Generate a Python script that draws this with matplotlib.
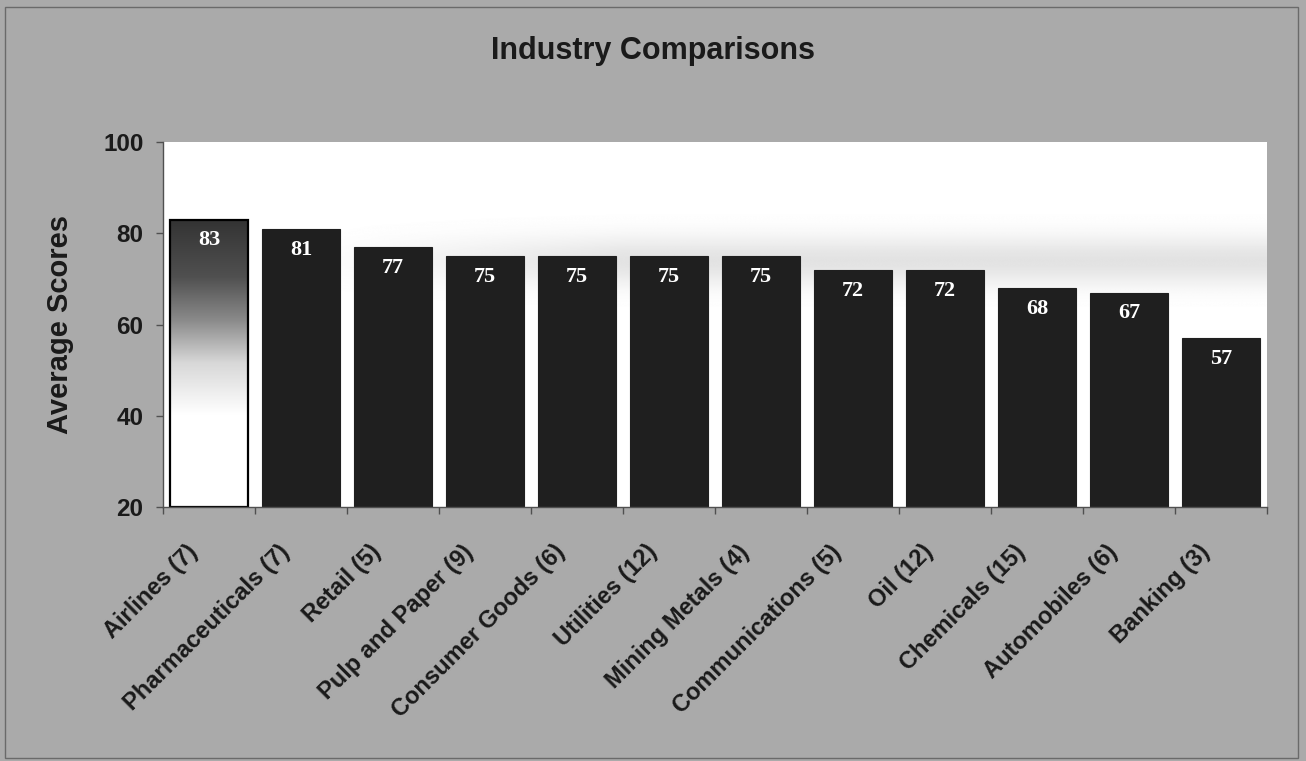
import numpy as np
import matplotlib
matplotlib.use("Agg")
import matplotlib.pyplot as plt
from matplotlib.colors import LinearSegmentedColormap
from matplotlib.patches import Rectangle

industries = ["Airlines (7)", "Pharmaceuticals (7)", "Retail (5)", "Pulp and Paper (9)",
              "Consumer Goods (6)", "Utilities (12)", "Mining Metals (4)",
              "Communications (5)", "Oil (12)", "Chemicals (15)", "Automobiles (6)",
              "Banking (3)"]
scores = [83, 81, 77, 75, 75, 75, 75, 72, 72, 68, 67, 57]
y_ticks = [20, 40, 60, 80, 100]

bg = "#aaaaaa"
bar_color = "#1f1f1f"
text_color = "#1a1a1a"
sans = ["Liberation Sans", "Arial", "DejaVu Sans"]
serif = ["Liberation Serif", "Times New Roman", "DejaVu Serif"]

fig = plt.figure(figsize=(13.06, 7.61), dpi=100, facecolor=bg)
W, H = 1306, 761
ax = fig.add_axes([163 / W, 1 - 507 / H, (1267 - 163) / W, (507 - 142) / H])
ax.set_facecolor("white")

x = np.arange(len(industries))
ymin, ymax = y_ticks[0], y_ticks[-1]
bars = ax.bar(x, [s - ymin for s in scores], bottom=ymin, width=0.85,
              color=bar_color, edgecolor=bar_color, linewidth=0.8, zorder=3)
ax.set_xlim(-0.5, len(industries) - 0.5)
ax.set_ylim(ymin, ymax)

# faint grey haze band across the upper part of the plot area
haze_y = np.linspace(ymin, ymax, 400)
haze = np.exp(-((haze_y - 74) / 5.5) ** 2) * 0.11
haze_x = np.clip((np.linspace(0, 1, 300) - 0.12) / 0.3, 0, 1)
haze_img = 1 - haze[:, None] * haze_x[None, :]
ax.imshow(haze_img, extent=[-0.5, len(industries) - 0.5, ymin, ymax], origin="lower",
          cmap="gray", vmin=0, vmax=1, aspect="auto", zorder=1, interpolation="bilinear")

# first bar: vertical fade from dark grey at the top to white at the bottom
first = bars[0]
first.set_facecolor("none")
first.set_edgecolor("black")
first.set_linewidth(1.6)
first.set_zorder(5)
fade = LinearSegmentedColormap.from_list(
    "fade", [(0.0, "white"), (0.32, "white"), (0.50, "#d8d8d8"),
             (0.65, "#8a8a8a"), (0.80, "#505050"), (1.0, "#333333")])
grad = np.linspace(0, 1, 256)[:, None]
x0 = first.get_x()
img = ax.imshow(grad, extent=[x0, x0 + first.get_width(), ymin, scores[0]],
                origin="lower", cmap=fade, aspect="auto", zorder=4,
                interpolation="bilinear")
img.set_clip_path(first)

# value labels inside the top of each bar
for xi, s in zip(x, scores):
    ax.annotate(str(s), (xi, s), xytext=(0, -15), textcoords="offset points",
                ha="center", va="center", color="white", fontsize=16,
                fontweight="bold", family=serif, zorder=6)

# axes styling
for side in ("top", "right"):
    ax.spines[side].set_visible(False)
for side in ("left", "bottom"):
    ax.spines[side].set_color("#505050")
    ax.spines[side].set_linewidth(1.0)
    ax.spines[side].set_zorder(7)

ax.set_yticks(y_ticks)
ax.set_yticklabels([str(t) for t in y_ticks], fontsize=17.5, fontweight="bold",
                   family=sans, color=text_color)
ax.tick_params(axis="y", length=5, width=1, color="#505050", pad=9)

# category ticks sit on the boundaries between bars
ax.set_xticks(np.arange(-0.5, len(industries)))
ax.set_xticklabels([])
ax.tick_params(axis="x", length=5, width=1, color="#505050")

# slanted category labels
for xi, name in zip(x, industries):
    ax.annotate(name, (xi, 0), xycoords=("data", "axes fraction"),
                xytext=(-11, -30), textcoords="offset points",
                rotation=45, rotation_mode="anchor", ha="right", va="center",
                fontsize=17, fontweight="bold", family=sans, color=text_color,
                annotation_clip=False)

ax.set_ylabel("Average Scores", fontsize=21, fontweight="bold", family=sans,
              color=text_color)
ax.yaxis.set_label_coords(-89 / (1267 - 163), 0.5)

fig.text(653 / W, 1 - 51 / H, "Industry Comparisons", ha="center", va="center",
         fontsize=22, fontweight="bold", family=sans, color=text_color)

# thin frame around the whole chart
fig.patches.append(Rectangle((5 / W, 1 - 758 / H), (1298 - 5) / W, (758 - 7) / H,
                             transform=fig.transFigure, fill=False,
                             edgecolor="#6a6a6a", linewidth=1.0))

fig.savefig("out.png", dpi=100, facecolor=bg)
